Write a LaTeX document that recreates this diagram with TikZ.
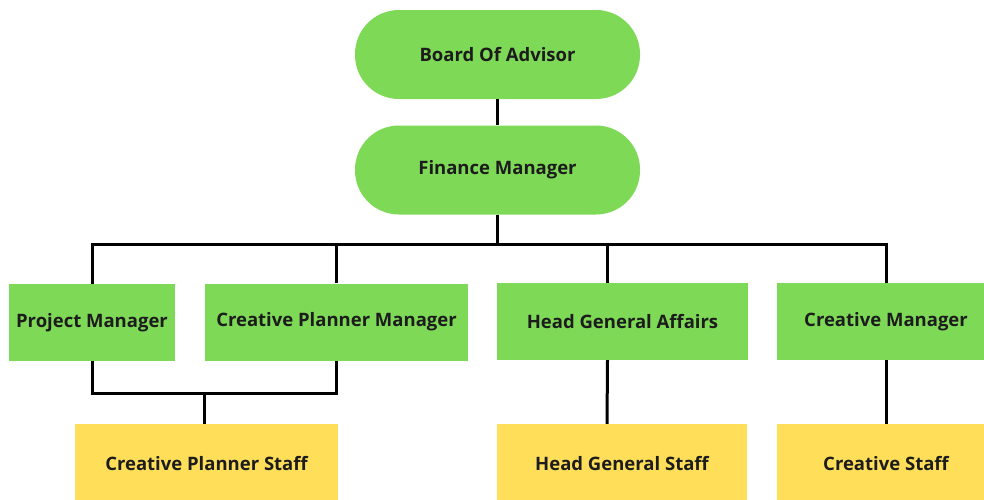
\documentclass[tikz,border=0pt]{standalone}
\usepackage{fontspec}
\setmainfont{Open Sans}
\usepackage{tikz}
\usepackage{xcolor}
\definecolor{boxgreen}{HTML}{7ED957}
\definecolor{boxyellow}{HTML}{FFDE59}
\definecolor{inkdark}{HTML}{1C1C1C}

\begin{document}
\begin{tikzpicture}[x=1pt,y=-1pt,
		pill/.style={fill=boxgreen, rounded corners=44pt, minimum width=285pt, minimum height=89pt, inner sep=0pt},
		role/.style={fill=boxgreen, minimum height=77pt, inner sep=0pt},
		staff/.style={fill=boxyellow, minimum height=80pt, inner sep=0pt},
		link/.style={draw=black, line width=3pt}]
		\tikzstyle{every node}+=[text=inkdark, font=\fontsize{18.5}{22}\bfseries\selectfont]
		\useasboundingbox (0,0) rectangle (984,499);
		\clip (0,0) rectangle (984,499);
		\node [pill] (board) at (497.5,54.5) {Board Of Advisor};
		\node [pill] (fin) at (497.5,170) {Finance Manager};
		\node [role, minimum width=166pt] (pm) at (92,322.5) {Project Manager};
		\node [role, minimum width=263pt] (cpm) at (336.5,322) {Creative Planner Manager};
		\node [role, minimum width=251pt] (hga) at (622.5,321.5) {Head General Affairs};
		\node [role, minimum width=218pt] (cm) at (886,321.5) {Creative Manager};
		\node [staff, minimum width=263pt] (cps) at (206.5,464) {Creative Planner Staff};
		\node [staff, minimum width=250pt] (hgs) at (622,464) {Head General Staff};
		\node [staff, minimum width=218pt] (cs) at (886,464) {Creative Staff};
		\coordinate (bar) at (497.5,244);
		\coordinate (join) at (204,393);
		\draw [link] (board) -- (fin);
		\draw [link] (fin) -- (bar);
		\draw [link] (pm.north) |- (bar) -| (cm.north);
		\draw [link] (cpm.north) -- (cpm.north |- bar);
		\draw [link] ([xshift=-15pt]hga.north) -- ([xshift=-15pt]hga.north |- bar);
		\draw [link] (pm.south) |- (join) -| (cpm.south);
		\draw [link] (join) -- (join |- cps.north);
		\draw [link] ([xshift=-15pt]hga.south) -- ([xshift=-15pt]hgs.north);
		\draw [link] (cm.south) -- (cs.north);
\end{tikzpicture}
\end{document}
